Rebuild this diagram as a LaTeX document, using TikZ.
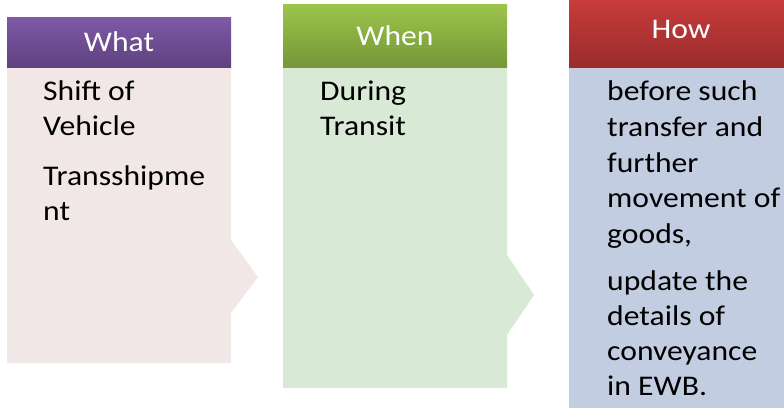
\documentclass[tikz,border=0pt]{standalone}
\usepackage{fontspec}
\setmainfont{Carlito}[FakeStretch=1.11]
\definecolor{whatTop}{HTML}{7E59A8}
\definecolor{whatBot}{HTML}{5F427E}
\definecolor{whatBody}{HTML}{F2E7E7}
\definecolor{whenTop}{HTML}{9CC54B}
\definecolor{whenBot}{HTML}{75963A}
\definecolor{whenBody}{HTML}{D8E9D6}
\definecolor{howTop}{HTML}{CD3D3D}
\definecolor{howBot}{HTML}{9B2C2C}
\definecolor{howBody}{HTML}{C3CDE1}
\tikzset{
  headtxt/.style={inner sep=0pt, anchor=base, text=white, font=\fontsize{28.5}{35.7}\selectfont},
  bodytxt/.style={inner sep=0pt, anchor=base west, text=black, font=\fontsize{28.5}{35.7}\selectfont},
}
\begin{document}
\begin{tikzpicture}[x=1pt,y=-1pt]
\useasboundingbox (0,0) rectangle (784,407);
\clip (0,0) rectangle (784,407);
% What column
\fill[whatBody] (7,67) -- (231,67) -- (231,240) -- (258,277) -- (231,313) -- (231,363) -- (7,363) -- cycle;
\shade[top color=whatTop, bottom color=whatBot] (7,17) rectangle (231,67);
\node[headtxt] (whatH) at (119,51) {What};
\node[bodytxt] (w1) at (43,100) {Shift of};
\node[bodytxt] (w2) at (43,135.5) {Vehicle};
\node[bodytxt] (w3) at (43,185) {Transshipme};
\node[bodytxt] (w4) at (43,220.5) {nt};
% When column
\fill[whenBody] (283,67) -- (507,67) -- (507,255) -- (534,295) -- (507,335) -- (507,388) -- (283,388) -- cycle;
\shade[top color=whenTop, bottom color=whenBot] (283,4) rectangle (507,67);
\node[headtxt] (whenH) at (395,45) {When};
\node[bodytxt] (n1) at (320,100) {During};
\node[bodytxt] (n2) at (320,135.5) {Transit};
% How column
\fill[howBody] (569,67) rectangle (793,413);
\shade[top color=howTop, bottom color=howBot] (569,-9) rectangle (793,67);
\node[headtxt] (howH) at (681,38) {How};
\node[bodytxt] (h1) at (607,100) {before such};
\node[bodytxt] (h2) at (607,136) {transfer and};
\node[bodytxt] (h3) at (607,172) {further};
\node[bodytxt] (h4) at (607,207.5) {movement of};
\node[bodytxt] (h5) at (607,243) {goods,};
\node[bodytxt] (h6) at (607,290) {update the};
\node[bodytxt] (h7) at (607,325) {details of};
\node[bodytxt] (h8) at (607,360) {conveyance};
\node[bodytxt] (h9) at (607,395) {in EWB.};
\end{tikzpicture}
\end{document}
